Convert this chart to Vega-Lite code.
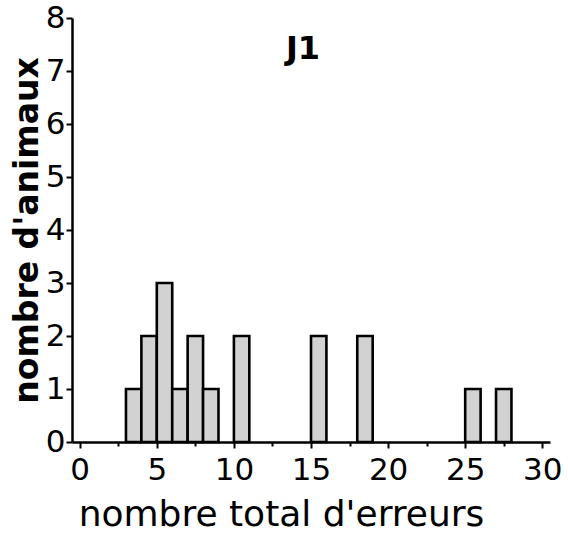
{
  "$schema": "https://vega.github.io/schema/vega-lite/v6.json",
  "width": 478,
  "height": 424,
  "autosize": "none",
  "padding": {"left": 72, "top": 18, "right": 18, "bottom": 100},
  "background": "white",
  "title": {"text": "J1", "font": "DejaVu Sans", "fontSize": 32, "fontWeight": "bold", "color": "black", "anchor": "middle", "dx": -8, "baseline": "top", "offset": -64},
  "data": {"values": [
    {"start": 3, "end": 4, "count": 1},
    {"start": 4, "end": 5, "count": 2},
    {"start": 5, "end": 6, "count": 3},
    {"start": 6, "end": 7, "count": 1},
    {"start": 7, "end": 8, "count": 2},
    {"start": 8, "end": 9, "count": 1},
    {"start": 10, "end": 11, "count": 2},
    {"start": 15, "end": 16, "count": 2},
    {"start": 18, "end": 19, "count": 2},
    {"start": 25, "end": 26, "count": 1},
    {"start": 27, "end": 28, "count": 1}
  ]},
  "resolve": {"axis": {"x": "independent"}},
  "layer": [
    {
      "mark": {"type": "bar", "fill": "#d2d2d2", "stroke": "black", "strokeWidth": 2.6},
      "encoding": {
        "x": {"field": "start", "type": "quantitative",
          "scale": {"domain": [-0.5, 30.5], "nice": false, "zero": false},
          "axis": {"orient": "bottom", "title": "nombre total d'erreurs", "values": [0,5,10,15,20,25,30],
            "grid": false, "domainColor": "black", "domainWidth": 2.5, "tickColor": "black", "tickWidth": 2, "tickSize": 6,
            "labelFont": "DejaVu Sans", "labelFontSize": 31, "labelColor": "black", "labelPadding": 7, "labelFontWeight": "normal",
            "titleFont": "DejaVu Sans", "titleFontSize": 36, "titleFontWeight": "normal", "titleColor": "black", "titlePadding": 12, "titleX": 209}},
        "x2": {"field": "end"},
        "y": {"field": "count", "type": "quantitative",
          "scale": {"domain": [0, 8], "nice": false},
          "axis": {"title": "nombre d'animaux", "values": [0,1,2,3,4,5,6,7,8],
            "grid": false, "domainColor": "black", "domainWidth": 2.5, "tickColor": "black", "tickWidth": 2, "tickSize": 6,
            "labelFont": "DejaVu Sans", "labelFontSize": 31, "labelColor": "black", "labelPadding": 1,
            "titleFont": "DejaVu Sans", "titleFontSize": 33, "titleFontWeight": "bold", "titleColor": "black", "titlePadding": 1}},
        "y2": {"datum": 0}
      }
    },
    {
      "mark": {"type": "point", "opacity": 0},
      "encoding": {
        "x": {"field": "start", "type": "quantitative",
          "axis": {"orient": "bottom", "title": null, "values": [2.5,7.5,12.5,17.5,22.5,27.5], "labels": false, "domain": false,
            "grid": false, "tickColor": "black", "tickWidth": 2, "tickSize": 4}},
        "y": {"field": "count", "type": "quantitative"}
      }
    }
  ],
  "config": {"view": {"stroke": null}}
}
